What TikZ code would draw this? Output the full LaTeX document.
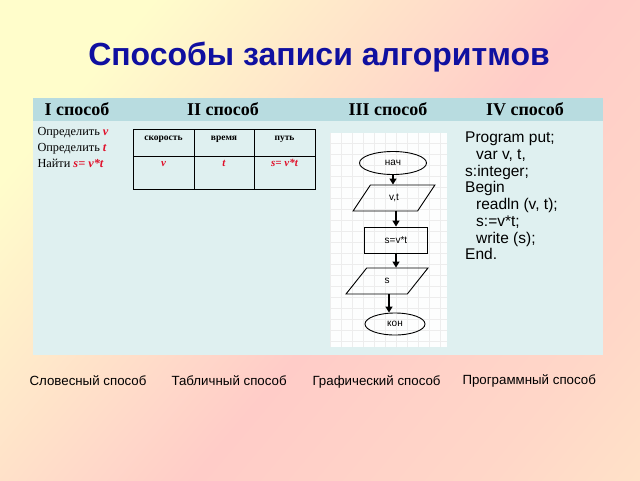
\documentclass[tikz,border=0pt]{standalone}
\usepackage{fontspec}
\setmainfont{Liberation Serif}
\setsansfont{Liberation Sans}
\usetikzlibrary{shapes.geometric,arrows.meta}
\definecolor{bgyel}{HTML}{FFFDCB}
\definecolor{bgpink}{HTML}{FFCCC8}
\definecolor{bgyel2}{HTML}{FFF0C8}
\definecolor{titleblue}{HTML}{1010A0}
\definecolor{headbg}{HTML}{B8DCE0}
\definecolor{bodybg}{HTML}{DFF0F0}
\definecolor{redv}{HTML}{E0102A}
\pgfdeclarehorizontalshading{bgsh}{100bp}{color(0bp)=(bgyel); color(25bp)=(bgyel); color(55bp)=(bgpink); color(75bp)=(bgpink!70!bgyel2); color(100bp)=(bgyel2)}
\tikzset{
  fcbox/.style={draw,line width=0.9pt,font=\sffamily\fontsize{10}{11}\selectfont,inner sep=0pt},
  fcarrow/.style={line width=1.3pt,-{Triangle[length=6pt,width=7pt]}},
  head/.style={font=\bfseries\fontsize{18}{19}\selectfont,anchor=base},
  label/.style={font=\sffamily\fontsize{13.3}{15}\selectfont,anchor=base west},
  rv/.style={text=redv,font=\bfseries\itshape\fontsize{11}{12}\selectfont,anchor=base},
  th/.style={font=\bfseries\fontsize{9.5}{11}\selectfont,anchor=base},
  ttext/.style={font=\fontsize{12.3}{14}\selectfont,anchor=base west}
}
\begin{document}
\begin{tikzpicture}[x=1pt,y=-1pt]
\useasboundingbox (0,0) rectangle (640,480);
\shade[shading=bgsh,shading angle=-40] (0,0) rectangle (640,480);
% title
\node[font=\sffamily\bfseries\fontsize{32}{36}\selectfont,text=titleblue] (title) at (319,57) {Способы записи алгоритмов};
% main table
\fill[bodybg] (33,121) rectangle (603,355);
\fill[headbg] (33,98) rectangle (603,121);
\node[head] (h1) at (77,115) {I способ};
\node[head] (h2) at (223,115) {II способ};
\node[head] (h3) at (388,115) {III способ};
\node[head] (h4) at (525,115) {IV способ};
% column I
\node[ttext] (w1) at (34,135) {Определить \textcolor{redv}{\bfseries\itshape v}};
\node[ttext] (w2) at (34,151) {Определить \textcolor{redv}{\bfseries\itshape t}};
\node[ttext] (w3) at (34,167) {Найти \textcolor{redv}{\bfseries\itshape s= v*t}};
% column II inner table
\draw[line width=0.8pt] (133,129) rectangle (315,189);
\draw[line width=0.8pt] (133,156) -- (315,156);
\draw[line width=0.8pt] (194,129) -- (194,189);
\draw[line width=0.8pt] (254,129) -- (254,189);
\node[th] (c1) at (163.5,140) {скорость};
\node[th] (c2) at (224,140) {время};
\node[th] (c3) at (284.5,140) {путь};
\node[rv] (d1) at (163.5,166) {v};
\node[rv] (d2) at (224,166) {t};
\node[rv] (d3) at (284.5,166) {s= v*t};
% column III flowchart panel
\fill[white!94!bodybg] (330,133) rectangle (447,347);
\begin{scope}
\clip (330,133) rectangle (447,347);
\draw[gray!14,line width=0.4pt,step=11pt] (330,133) grid (447,347);
\end{scope}
\node[fcbox,ellipse,minimum width=67pt,minimum height=23pt] (n1) at (393,163) {нач};
\node[fcbox,trapezium,trapezium left angle=65,trapezium right angle=115,trapezium stretches=true,minimum width=82pt,minimum height=26pt] (n2) at (394,198) {v,t};
\node[fcbox,rectangle,minimum width=63pt,minimum height=26pt] (n3) at (396,240) {s=v*t};
\node[fcbox,trapezium,trapezium left angle=65,trapezium right angle=115,trapezium stretches=true,minimum width=82pt,minimum height=26pt] (n4) at (387,281) {s};
\node[fcbox,ellipse,minimum width=60pt,minimum height=22pt] (n5) at (395,324) {кон};
\draw[fcarrow] (n1.south) -- (n1.south |- n2.north);
\draw[fcarrow] (n3.north |- n2.south) -- (n3.north);
\draw[fcarrow] (n3.south) -- (n3.south |- n4.north);
\draw[fcarrow] (n4.south -| 389,0) -- (n5.north -| 389,0);
% column IV program
\node[font=\sffamily\fontsize{15.5}{16.7}\selectfont,anchor=north west,align=left,inner sep=0pt] (prog) at (465,132) {Program put;\\
\hspace*{11pt}var v, t,\\
s:integer;\\
Begin\\
\hspace*{11pt}readln (v, t);\\
\hspace*{11pt}s:=v*t;\\
\hspace*{11pt}write (s);\\
End.};
% bottom labels
\node[label] (l1) at (26,385) {Словесный способ};
\node[label] (l2) at (168,385) {Табличный способ};
\node[label] (l3) at (309,385) {Графический способ};
\node[label] (l4) at (459,384) {Программный способ};
\end{tikzpicture}
\end{document}
